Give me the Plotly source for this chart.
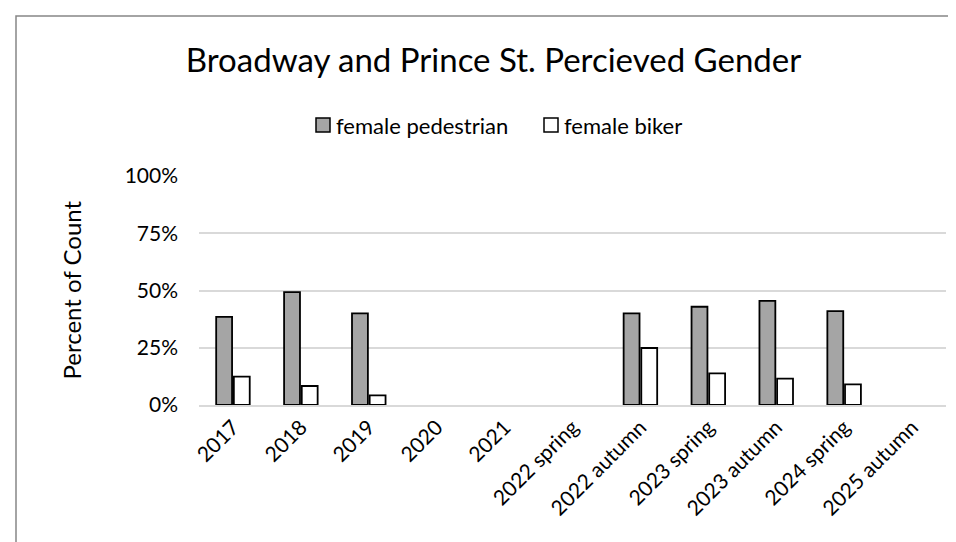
import plotly.graph_objects as go

categories = ["2017", "2018", "2019", "2020", "2021", "2022 spring", "2022 autumn",
              "2023 spring", "2023 autumn", "2024 spring", "2025 autumn"]
female_pedestrian = [0.385, 0.493, 0.400, None, None, None, 0.400, 0.429, 0.455, 0.410, None]
female_biker = [0.124, 0.083, 0.042, None, None, None, 0.249, 0.138, 0.115, 0.090, None]
series_names = ["female pedestrian", "female biker"]
series_colors = ["#a5a5a5", "#ffffff"]
y_ticks = [0, 0.25, 0.5, 0.75, 1.0]
y_tick_labels = ["0%", "25%", "50%", "75%", "100%"]

FONT = "Lato, 'Open Sans', sans-serif"
W, H = 956, 542
ML, MR, MT, MB = 191, 18, 168, 145
PW, PH = W - ML - MR, H - MT - MB


def px_to_paper_x(px):
    return (px - ML) / PW


def px_to_paper_y(py):
    return (H - MB - py) / PH


fig = go.Figure()
for name, color, vals in zip(series_names, series_colors, [female_pedestrian, female_biker]):
    fig.add_trace(go.Bar(name=name, x=categories, y=vals, showlegend=False,
                         marker=dict(color=color, line=dict(color="#000000", width=1.8))))

fig.update_layout(
    width=W, height=H,
    margin=dict(l=ML, r=MR, t=MT, b=MB, autoexpand=False),
    paper_bgcolor="white", plot_bgcolor="white",
    font=dict(family=FONT, color="#000000"),
    barmode="group", bargap=0.48, bargroupgap=0.1,
    title=dict(text="Broadway and Prince St. Percieved Gender",
               font=dict(size=33, family=FONT, color="#000000"),
               x=485.5 / W, xref="container", xanchor="center",
               y=1 - 52 / H, yref="container", yanchor="middle"),
    showlegend=False,
)
fig.update_xaxes(type="category", tickangle=-45, tickfont=dict(size=21, family=FONT),
                 showgrid=False, showline=True, linecolor="#d9d9d9", linewidth=1.5,
                 ticks="", zeroline=False)
fig.update_yaxes(range=[0, 1.0], tickvals=y_ticks, ticktext=y_tick_labels,
                 tickfont=dict(size=21, family=FONT), showgrid=True,
                 gridcolor="#d9d9d9", gridwidth=1.5, zeroline=False, showline=False,
                 ticks="", ticklabelstandoff=20)
fig.add_annotation(text="Percent of Count", textangle=-90, showarrow=False,
                   xref="paper", yref="paper", x=px_to_paper_x(63), y=0.5,
                   xanchor="center", yanchor="middle",
                   font=dict(size=24, family=FONT, color="#000000"))

# custom legend (swatch + label), matching the compact Excel-style legend
legend_swatch_left = [308, 536]
legend_y = 117
for left, name, color in zip(legend_swatch_left, series_names, series_colors):
    fig.add_shape(type="rect", xref="paper", yref="paper",
                  x0=px_to_paper_x(left), x1=px_to_paper_x(left + 14),
                  y0=px_to_paper_y(legend_y + 7), y1=px_to_paper_y(legend_y - 7),
                  line=dict(color="#000000", width=1.5), fillcolor=color)
    fig.add_annotation(text=name, showarrow=False, xref="paper", yref="paper",
                       x=px_to_paper_x(left + 18), y=px_to_paper_y(legend_y),
                       xanchor="left", yanchor="middle",
                       font=dict(size=22, family=FONT, color="#000000"))

fig.add_shape(type="rect", xref="paper", yref="paper",
              x0=px_to_paper_x(8), x1=px_to_paper_x(W + 10),
              y0=px_to_paper_y(H + 10), y1=px_to_paper_y(8),
              line=dict(color="#868686", width=1.5), fillcolor="rgba(0,0,0,0)",
              layer="below")
fig.write_html("out.html")
